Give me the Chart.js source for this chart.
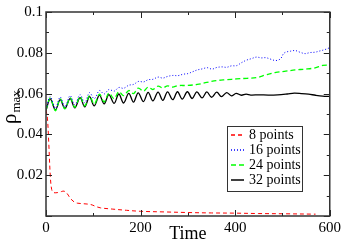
<!DOCTYPE html>
<html>
<head>
<meta charset="utf-8">
<script src="https://cdn.jsdelivr.net/npm/chart.js@4/dist/chart.umd.min.js"></script>
<style>
  body { margin: 0; background: #fff; }
  canvas { display: block; }
</style>
</head>
<body>
<canvas id="myChart" width="344" height="245"></canvas>
<script>
'use strict'

// 8 points (red dashed)
let tRed = [0, 3, 6, 9, 12, 16, 25, 33, 38, 44, 52, 60, 66, 80, 95, 105, 115, 140, 170, 200, 250, 300, 350, 400, 450, 500, 570];
let vRed = [0.052, 0.048, 0.035, 0.020, 0.013, 0.0115, 0.0115, 0.0120, 0.0122, 0.0112, 0.0085, 0.0068, 0.0063, 0.0060, 0.0056, 0.0047, 0.0040, 0.0034, 0.0028, 0.0023, 0.0020, 0.0017, 0.0015, 0.0014, 0.0012, 0.0011, 0.0009];

// 16 points (blue dotted)
let tBlue = [0, 9, 20, 30, 40, 51, 61, 72, 82, 92, 102, 113, 123, 133, 144, 154, 164, 175, 185, 196, 206, 216, 226, 237, 247, 257, 268, 279, 290, 300, 310, 320, 330, 341, 351, 361, 372, 382, 392, 403, 413, 424, 434, 445, 455, 465, 476, 486, 496, 502, 507, 517, 527, 538, 548, 558, 569, 579, 590, 600];
let vBlue = [0.0525, 0.0585, 0.0528, 0.0583, 0.0535, 0.0590, 0.0545, 0.0595, 0.0555, 0.0605, 0.0575, 0.0615, 0.0598, 0.0620, 0.0612, 0.0630, 0.0626, 0.0641, 0.0645, 0.0660, 0.0657, 0.0668, 0.0670, 0.0681, 0.0676, 0.0684, 0.0689, 0.0688, 0.0695, 0.0698, 0.0707, 0.0716, 0.0721, 0.0727, 0.0720, 0.0728, 0.0731, 0.0729, 0.0736, 0.0737, 0.0751, 0.0764, 0.0771, 0.0779, 0.0775, 0.0776, 0.0768, 0.0762, 0.0771, 0.0795, 0.0803, 0.0808, 0.0811, 0.0802, 0.0796, 0.0801, 0.0803, 0.0809, 0.0816, 0.0825];

// 24 points (green dashed)
let tGreen = [0, 9, 20, 30, 40, 51, 61, 72, 82, 92, 102, 113, 123, 133, 144, 154, 164, 175, 185, 195, 206, 216, 226, 237, 247, 257, 268, 278, 299, 320, 340, 361, 382, 403, 425, 445, 465, 486, 507, 527, 548, 569, 585, 600];
let vGreen = [0.0520, 0.0578, 0.0516, 0.0575, 0.0525, 0.0580, 0.0533, 0.0585, 0.0540, 0.0590, 0.0548, 0.0597, 0.0560, 0.0603, 0.0575, 0.0610, 0.0590, 0.0615, 0.0600, 0.0627, 0.0612, 0.0632, 0.0620, 0.0637, 0.0628, 0.0638, 0.0632, 0.0639, 0.0640, 0.0645, 0.0655, 0.0664, 0.0668, 0.0672, 0.0675, 0.0678, 0.0692, 0.0704, 0.0710, 0.0716, 0.0720, 0.0726, 0.0738, 0.0740];

// 32 points (black solid)
let tBlack = [0, 9, 20, 30, 40, 51, 61, 72, 82, 92, 102, 113, 123, 133, 144, 154, 164, 175, 185, 195, 206, 216, 226, 237, 247, 257, 268, 278, 288, 299, 309, 319, 330, 340, 350, 361, 371, 382, 392, 402, 413, 423, 433, 450, 470, 490, 510, 525, 540, 555, 570, 585, 600];
let vBlack = [0.0517, 0.0574, 0.0520, 0.0570, 0.0527, 0.0575, 0.0530, 0.0580, 0.0535, 0.0585, 0.0540, 0.0592, 0.0550, 0.0595, 0.0552, 0.0598, 0.0554, 0.0601, 0.0558, 0.0604, 0.0561, 0.0606, 0.0564, 0.0607, 0.0567, 0.0608, 0.0570, 0.0609, 0.0573, 0.0609, 0.0576, 0.0608, 0.0579, 0.0608, 0.0582, 0.0607, 0.0585, 0.0605, 0.0589, 0.0601, 0.0592, 0.0597, 0.0593, 0.0594, 0.0593, 0.0594, 0.0598, 0.0602, 0.0600, 0.0597, 0.0592, 0.0588, 0.0586];

let labels = ['8 points', '16 points', '24 points', '32 points'];
let colors = ['#ff0000', '#0000ff', '#00ff00', '#000000'];
let dashes = [[4, 3], [1, 2], [5, 3], []];

let xTicks = [0, 200, 400, 600];
let yTicks = [0.02, 0.04, 0.06, 0.08, 0.1];

function toPoints(ts, vs){
    return ts.map((t, i) => ({x: t, y: vs[i]}));
}

const serif = "'Liberation Serif', 'DejaVu Serif', serif";

//Frame, inward ticks, y title and legend box
const decorPlugin = {
    id: 'decor',
    afterDraw(chart){
        const ctx = chart.ctx;
        const a = chart.chartArea;
        const xs = chart.scales.x;
        const ys = chart.scales.y;
        ctx.save();

        ctx.strokeStyle = '#222';
        ctx.lineWidth = 1;
        ctx.beginPath();
        for (let v = 0; v <= 600; v += 100){
            let px = Math.round(xs.getPixelForValue(v)) + 0.5;
            let len = v % 200 == 0 ? 6 : 3;
            ctx.moveTo(px, a.bottom); ctx.lineTo(px, a.bottom - len);
            ctx.moveTo(px, a.top); ctx.lineTo(px, a.top + len);
        }
        for (let i = 0; i <= 10; i++){
            let v = i / 100;
            let py = Math.round(ys.getPixelForValue(v)) + 0.5;
            let len = i % 2 == 0 ? 6 : 3;
            ctx.moveTo(a.left, py); ctx.lineTo(a.left + len, py);
            ctx.moveTo(a.right, py); ctx.lineTo(a.right - len, py);
        }
        ctx.stroke();

        ctx.strokeStyle = '#333';
        ctx.lineWidth = 1.5;
        ctx.strokeRect(a.left, a.top, a.right - a.left, a.bottom - a.top);

        // y axis title: rho with subscript max
        ctx.translate(16, 124);
        ctx.rotate(-Math.PI / 2);
        ctx.fillStyle = '#000';
        ctx.textBaseline = 'alphabetic';
        ctx.font = '21px ' + serif;
        ctx.fillText('\u03c1', 0, 0);
        let w = ctx.measureText('\u03c1').width;
        ctx.font = '13px ' + serif;
        ctx.fillText('max', w + 1, 4);
        ctx.setTransform(1, 0, 0, 1, 0, 0);

        // legend
        let bx = 227, by = 126, bw = 75, bh = 65;
        ctx.fillStyle = '#fff';
        ctx.fillRect(bx, by, bw, bh);
        ctx.strokeStyle = '#333';
        ctx.lineWidth = 1;
        ctx.strokeRect(bx + 0.5, by + 0.5, bw, bh);
        ctx.font = '14px ' + serif;
        ctx.textBaseline = 'middle';
        labels.forEach((lab, i) => {
            let yy = 135 + i * 15;
            ctx.strokeStyle = colors[i];
            ctx.lineWidth = 1.5;
            ctx.setLineDash(dashes[i]);
            ctx.beginPath();
            ctx.moveTo(231, yy);
            ctx.lineTo(244, yy);
            ctx.stroke();
            ctx.setLineDash([]);
            ctx.fillStyle = '#000';
            ctx.fillText(lab, 249, yy);
        });
        ctx.restore();
    }
};

const chartData = {
    datasets: [
        {label: labels[0], data: toPoints(tRed, vRed), borderColor: colors[0], borderDash: dashes[0]},
        {label: labels[1], data: toPoints(tBlue, vBlue), borderColor: colors[1], borderDash: dashes[1]},
        {label: labels[2], data: toPoints(tGreen, vGreen), borderColor: colors[2], borderDash: dashes[2], borderWidth: 1.3},
        {label: labels[3], data: toPoints(tBlack, vBlack), borderColor: colors[3], borderWidth: 1.3}
    ]
};

const config = {
    type: 'line',
    data: chartData,
    options: {
        responsive: false,
        animation: false,
        devicePixelRatio: 1,
        layout: {padding: {top: 5, right: 11, left: 0, bottom: 0}},
        elements: {
            point: {radius: 0},
            line: {borderWidth: 1, tension: 0.35, fill: false}
        },
        plugins: {legend: {display: false}, tooltip: {enabled: false}},
        scales: {
            x: {
                type: 'linear', min: 0, max: 600,
                grid: {display: false, drawTicks: false},
                border: {display: false},
                afterBuildTicks: s => { s.ticks = xTicks.map(v => ({value: v})); },
                afterFit: s => { s.height = 29; },
                ticks: {color: '#000', padding: 3, maxRotation: 0, font: {family: serif, size: 15}},
                title: {display: true, text: 'Time', color: '#000', padding: {top: -2, bottom: 0}, font: {family: serif, size: 18}}
            },
            y: {
                min: 0, max: 0.1,
                grid: {display: false, drawTicks: false},
                border: {display: false},
                afterBuildTicks: s => { s.ticks = yTicks.map(v => ({value: v})); },
                afterFit: s => { s.width = 46; },
                ticks: {color: '#000', padding: 3, font: {family: serif, size: 15},
                    callback: v => String(Math.round(v * 100) / 100)}
            }
        }
    },
    plugins: [decorPlugin]
};

let myChart = new Chart(document.getElementById('myChart'), config);
</script>
</body>
</html>
